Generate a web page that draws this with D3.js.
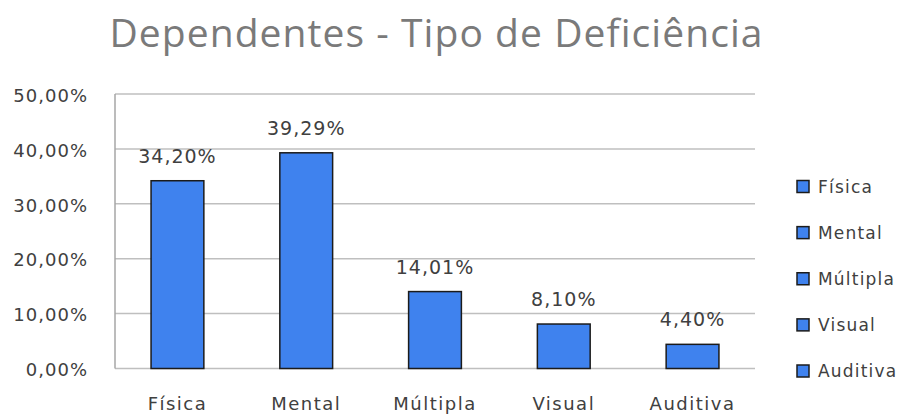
<!DOCTYPE html>
<html>
<head>
<meta charset="utf-8">
<script src="https://cdn.jsdelivr.net/npm/d3@7"></script>
<style>
  html, body { margin: 0; padding: 0; background: #fff; }
  svg { display: block; }
</style>
</head>
<body>
<svg id="chart" width="906" height="414"></svg>
<script>
const title = "Dependentes - Tipo de Deficiência";
const categories = ["Física", "Mental", "Múltipla", "Visual", "Auditiva"];
const values = [34.20, 39.29, 14.01, 8.10, 4.40];
const valueLabels = ["34,20%", "39,29%", "14,01%", "8,10%", "4,40%"];
const yTicks = [0, 10, 20, 30, 40, 50];
const yTickLabels = ["0,00%", "10,00%", "20,00%", "30,00%", "40,00%", "50,00%"];

const svg = d3.select("#chart");
const W = 906, H = 414;
svg.append("rect").attr("width", W).attr("height", H).attr("fill", "#fff");

const plot = { left: 115, right: 755, top: 94, bottom: 368.5 };

const x = d3.scaleBand()
  .domain(categories)
  .range([plot.left, plot.right])
  .paddingInner(0.59)
  .paddingOuter(0.28);

const y = d3.scaleLinear().domain([0, 50]).range([plot.bottom, plot.top]);

const font = "'DejaVu Sans', Verdana, sans-serif";
const textColor = "#404040";

// gridlines
const grid = svg.append("g");
grid.selectAll("line").data(yTicks).join("line")
  .attr("x1", plot.left).attr("x2", plot.right)
  .attr("y1", d => y(d)).attr("y2", d => y(d))
  .attr("stroke", "#bfbfbf").attr("stroke-width", 1.5);

// y axis line
svg.append("line")
  .attr("x1", plot.left).attr("x2", plot.left)
  .attr("y1", plot.top).attr("y2", plot.bottom)
  .attr("stroke", "#a6a6a6").attr("stroke-width", 1.5);

// y axis labels via d3 axis
const yAxis = d3.axisLeft(y).tickValues(yTicks)
  .tickFormat((d, i) => yTickLabels[i]).tickSize(0).tickPadding(27);
const gy = svg.append("g").attr("transform", `translate(${plot.left},0)`).call(yAxis);
gy.select(".domain").remove();
gy.selectAll("text")
  .attr("font-family", font).attr("font-size", 18)
  .attr("letter-spacing", 1)
  .attr("fill", textColor)
  .attr("dy", "0.4em");

// bars
svg.append("g").selectAll("rect").data(values).join("rect")
  .attr("x", (d, i) => x(categories[i]))
  .attr("width", x.bandwidth())
  .attr("y", d => y(d))
  .attr("height", d => y(0) - y(d))
  .attr("fill", "#3F82EE")
  .attr("stroke", "#1b1b1b")
  .attr("stroke-width", 1.5);

// value labels
svg.append("g").selectAll("text").data(values).join("text")
  .attr("x", (d, i) => x(categories[i]) + x.bandwidth() / 2)
  .attr("y", d => y(d) - 18)
  .attr("text-anchor", "middle")
  .attr("font-family", font).attr("font-size", 19)
  .attr("letter-spacing", 1)
  .attr("fill", textColor)
  .text((d, i) => valueLabels[i]);

// x axis labels via d3 axis
const xAxis = d3.axisBottom(x).tickSize(0).tickPadding(29);
const gx = svg.append("g").attr("transform", `translate(0,${plot.bottom})`).call(xAxis);
gx.select(".domain").remove();
gx.selectAll("text")
  .attr("font-family", font).attr("font-size", 18)
  .attr("letter-spacing", 1.5)
  .attr("fill", textColor);

// title
const t = svg.append("text")
  .attr("x", 436.5).attr("y", 46.5)
  .attr("text-anchor", "middle")
  .attr("font-family", "'Open Sans', 'Noto Sans', sans-serif")
  .attr("font-size", 39)
  .attr("fill", "#7a7a7a")
  .text(title);
const tw = t.node().getComputedTextLength();
const n = title.length;
t.attr("letter-spacing", (653 - tw) / (n - 1));

// legend
const legendY = d3.scalePoint().domain(categories).range([186.5, 371]);
const lg = svg.append("g");
const items = lg.selectAll("g").data(categories).join("g")
  .attr("transform", d => `translate(797,${legendY(d)})`);
items.append("rect")
  .attr("x", 0).attr("y", -6).attr("width", 12).attr("height", 12)
  .attr("fill", "#3F82EE").attr("stroke", "#1b1b1b").attr("stroke-width", 1.5);
items.append("text")
  .attr("x", 21).attr("y", 0).attr("dy", "0.36em")
  .attr("font-family", font).attr("font-size", 17)
  .attr("letter-spacing", 1.2)
  .attr("fill", textColor)
  .text(d => d);
</script>
</body>
</html>
